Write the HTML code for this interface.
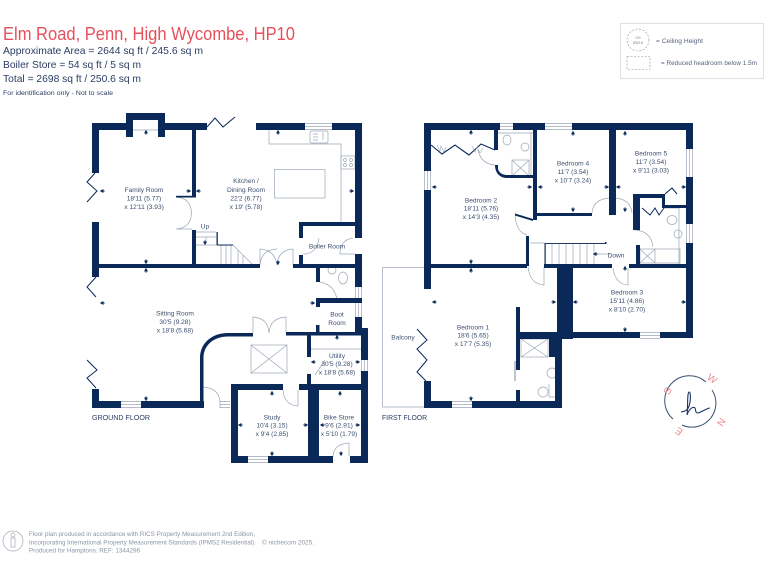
<!DOCTYPE html>
<html><head><meta charset="utf-8"><style>
html,body{margin:0;padding:0;background:#fff;width:768px;height:576px;overflow:hidden}
svg{display:block;filter:blur(.25px)}
text{font-family:"Liberation Sans",sans-serif}
.r text,.r{font-size:6.6px;fill:#3e4f70;text-anchor:middle}
</style></head><body>
<svg width="768" height="576" viewBox="0 0 768 576" xmlns="http://www.w3.org/2000/svg">
<rect width="768" height="576" fill="#fff"/>
<defs><path id="a" d="M0-2.2L2 1.4H.5V2.6H-.5V1.4H-2z" fill="#0a2858"/></defs>

<!-- header -->
<text x="3" y="40" font-size="18.500" fill="#e8505b" textLength="292" lengthAdjust="spacingAndGlyphs">Elm Road, Penn, High Wycombe, HP10</text>
<g fill="#2b3d63" font-size="10.5">
<text x="3" y="54" textLength="200" lengthAdjust="spacingAndGlyphs">Approximate Area = 2644 sq ft / 245.6 sq m</text>
<text x="3" y="68" textLength="138" lengthAdjust="spacingAndGlyphs">Boiler Store = 54 sq ft / 5 sq m</text>
<text x="3" y="82" textLength="138" lengthAdjust="spacingAndGlyphs">Total = 2698 sq ft / 250.6 sq m</text>
</g>
<text x="3" y="95" font-size="6.3" fill="#2b3d63" textLength="110" lengthAdjust="spacingAndGlyphs">For identification only - Not to scale</text>

<!-- legend -->
<rect x="620.5" y="23.5" width="143" height="55" fill="#fff" stroke="#d5d8dc" stroke-width=".8"/>
<circle cx="638" cy="40" r="11" fill="none" stroke="#8b93a0" stroke-width=".6" stroke-dasharray="2 1.5"/>
<text x="638" y="39" font-size="3.4" fill="#68738a" text-anchor="middle">CH</text>
<text x="638" y="44" font-size="3.4" fill="#68738a" text-anchor="middle">8'5/2.6</text>
<text x="656" y="43" font-size="6" fill="#57627c" textLength="47" lengthAdjust="spacingAndGlyphs">= Ceiling Height</text>
<rect x="627" y="56.5" width="23" height="13" fill="none" stroke="#8b93a0" stroke-width=".6" stroke-dasharray="2 1.5"/>
<text x="661" y="65" font-size="6" fill="#57627c" textLength="96" lengthAdjust="spacingAndGlyphs">= Reduced headroom below 1.5m</text>

<!-- thin lines -->
<g fill="none" stroke="#9ba6b6" stroke-width=".7">
<path d="M305 123.5H332M305 126.5H332M305 129.5H332"/>
<path d="M121 401.5H141M121 404.5H141M121 407.5H141"/>
<path d="M248 456.5H268M248 459.5H268M248 462.5H268"/>
<path d="M220 401.5H230M220 404.5H230M220 407.5H230M220 401V408"/>
<path d="M355.5 287V317M358.5 287V317M361.5 287V317"/>
<path d="M361.5 360V371M364.5 360V371M367.5 360V371"/>
<path d="M500 123.5H513M500 126.5H513M500 129.5H513"/>
<path d="M545 123.5H572M545 126.5H572M545 129.5H572"/>
<path d="M424.5 171V190M427.5 171V190M430.5 171V190"/>
<path d="M686.5 149V177M689.5 149V177M692.5 149V177"/>
<path d="M686.5 224V243M689.5 224V243M692.5 224V243"/>
<path d="M640 332.5H660M640 335.5H660M640 338.5H660"/>
<path d="M452 401.5H472M452 404.5H472M452 407.5H472"/>
<path d="M133 130H158"/>
<path d="M269 130V144H341V222"/>
<rect x="310" y="131" width="18" height="12" rx="1.5"/>
<path d="M313 134H318M313 137H318M313 140H318M323 132V140"/>
<rect x="341" y="156" width="14" height="13"/>
<circle cx="345" cy="160" r="1.5"/><circle cx="351" cy="160" r="1.5"/><circle cx="345" cy="165" r="1.5"/><circle cx="351" cy="165" r="1.5"/>
<rect x="274.5" y="169.5" width="50.5" height="28.5"/>
<path d="M176 197Q191 198 191.500 213Q191 228 176 229H192"/>
<path d="M196 232H216M196 237H216M196 245H217M233 245L253 265"/>
<path d="M206 237V243M221 245V265M226 245V265M231 245V265M238 250V265M243 255V265"/>
<path d="M260 249V265Q261 250 277 249M260 249Q275 250 277 265M293 249V265M293 249Q278 250 277 265"/>
<path d="M303 254H306Q317 252 319 238M353 238Q340 240 340 254H355"/>
<circle cx="332" cy="270" r="4"/><ellipse cx="343" cy="278" rx="4.500" ry="6"/>
<path d="M320 282Q335 285 337 300"/>
<path d="M253 333V317Q268 318 269 333M286 333V317Q270 318 269 333"/>
<rect x="251" y="345" width="36" height="28"/><path d="M251 345L287 373M287 345L251 373"/>
<path d="M311 349H361"/>
<path d="M325 360L315 375"/>
<path d="M203 387V402M203 387Q219 388 220 402"/>
<path d="M283 390Q284 405 298 406V390"/>
<path d="M333 457Q333 444 349 443V456"/>
<path d="M382.500 407V267.500H424M382.500 407H424"/>
<path d="M498 133H533M531 133V175"/>
<ellipse cx="507" cy="140" rx="4" ry="5"/><circle cx="525" cy="147" r="4"/>
<rect x="512" y="160" width="17" height="16"/><path d="M512 160L529 176M529 160L512 176"/>
<path d="M478 150Q481 164 495 165"/>
<path d="M515 215Q516 232 527 235"/>
<path d="M528 267Q530 284 544 285V267"/>
<path d="M530 243H545"/>
<path d="M552 243V265M559 243V265M566 243V265M573 243V265M580 243V265M587 243V265M594 243V265"/>
<path d="M592 213Q593 199 610 198M616 198Q631 200 632 213"/>
<path d="M640 230H635Q651 231 653 247"/>
<path d="M679 208V264M664 208H679"/>
<ellipse cx="672" cy="220" rx="5" ry="4.500"/><circle cx="678" cy="234" r="4"/>
<rect x="640" y="249" width="40" height="14" /><path d="M640 249L655 263M655 249L640 263M655 249V263"/>
<path d="M613 268Q615 284 628 285V268"/>
<rect x="521" y="339" width="27" height="18"/><path d="M521 339L548 357M548 339L521 357"/>
<circle cx="552" cy="373" r="5"/><ellipse cx="543" cy="392" rx="5" ry="5"/><path d="M549 384V397H555"/>
<path d="M515 361V381" stroke-width="1.300"/>
<path d="M595 254H610"/>
</g>

<!-- walls -->
<g fill="#0a2858">
<rect x="92" y="123" width="34" height="7"/>
<rect x="126" y="113" width="39" height="7"/>
<rect x="126" y="113" width="7" height="24"/>
<rect x="158" y="113" width="7" height="24"/>
<rect x="165" y="123" width="42" height="7"/>
<rect x="92" y="123" width="7" height="50"/>
<rect x="192" y="130" width="4" height="67"/>
<rect x="176" y="195.800" width="20" height="1.700"/>
<rect x="192" y="230" width="4" height="38"/>
<rect x="92" y="222" width="7" height="55"/>
<rect x="99" y="264" width="161" height="4"/>
<rect x="216.500" y="232" width="1.300" height="13"/>
<rect x="217" y="244.500" width="16" height="1"/>
<rect x="256" y="123" width="49" height="7"/>
<rect x="332" y="123" width="30" height="7"/>
<rect x="355" y="123" width="7" height="115"/>
<rect x="299" y="222" width="56" height="4"/>
<rect x="299" y="222" width="4" height="16"/>
<rect x="299" y="255" width="4" height="13"/>
<rect x="293" y="264" width="69" height="4"/>
<rect x="355" y="254" width="7" height="33"/>
<rect x="316" y="268" width="4" height="14"/>
<rect x="316" y="298" width="46" height="5"/>
<rect x="316" y="298" width="4" height="9"/>
<rect x="316" y="325" width="3.500" height="8"/>
<rect x="355" y="317" width="7" height="18"/>
<rect x="361" y="328" width="7" height="32"/>
<rect x="286" y="332" width="82" height="3.500"/>
<rect x="307" y="335" width="4" height="22"/>
<rect x="361" y="371" width="7" height="92"/>
<rect x="299" y="384" width="69" height="6"/>
<rect x="307" y="374" width="4" height="16"/>
<rect x="231" y="384" width="52" height="6"/>
<rect x="231" y="384" width="7" height="79"/>
<rect x="231" y="456" width="17" height="7"/>
<rect x="268" y="456" width="65" height="7"/>
<rect x="350" y="456" width="18" height="7"/>
<rect x="308" y="390" width="11" height="73"/>
<rect x="92" y="389" width="7" height="19"/>
<rect x="92" y="401" width="29" height="7"/>
<rect x="141" y="401" width="63" height="7"/>
<path d="M200 402V358C200 343 212 333 228 333H253V336.500H228C214 336.500 203.500 345 203.500 358V402z"/>
<rect x="424" y="123" width="76" height="7"/>
<rect x="513" y="123" width="32" height="7"/>
<rect x="572" y="123" width="121" height="7"/>
<rect x="424" y="123" width="7" height="48"/>
<rect x="424" y="190" width="7" height="99"/>
<rect x="431" y="264" width="96" height="4"/>
<rect x="424" y="381" width="7" height="27"/>
<rect x="424" y="401" width="28" height="7"/>
<rect x="472" y="401" width="90" height="7"/>
<rect x="494" y="130" width="4" height="20"/>
<path d="M495 165H498V168C498 172 502 175 507 175H533V178H507C500 178 495 173 495 165z"/>
<rect x="533" y="130" width="4" height="90"/>
<rect x="537" y="213" width="55" height="3"/>
<rect x="609" y="130" width="7" height="85"/>
<rect x="686" y="123" width="7" height="26"/>
<rect x="686" y="177" width="7" height="47"/>
<rect x="686" y="243" width="7" height="95"/>
<rect x="660" y="332" width="33" height="6"/>
<rect x="530" y="332" width="110" height="6"/>
<rect x="557" y="265" width="16" height="73"/>
<rect x="516" y="332" width="57" height="7"/>
<rect x="549" y="339" width="13" height="18"/>
<rect x="555" y="339" width="7" height="69"/>
<rect x="516" y="307" width="4" height="63"/>
<rect x="516" y="390" width="4" height="12"/>
<rect x="526" y="236" width="3" height="30"/>
<rect x="544" y="264" width="68" height="4"/>
<rect x="629" y="264" width="57" height="4"/>
<rect x="633" y="194" width="7" height="36"/>
<rect x="633" y="194" width="31" height="4"/>
<rect x="662" y="194" width="3" height="14"/>
<rect x="662" y="205" width="24" height="3"/>
<rect x="636" y="245" width="4" height="19"/>
<rect x="545" y="243" width="61" height=".9"/>
<rect x="544.500" y="243" width="1.200" height="21"/>
<rect x="605" y="242" width="1.500" height="2"/>
<path d="M515 213.500L533 219L533 221L515 215.500z"/>
</g>

<!-- zigzags -->
<g fill="none" stroke="#0a2858" stroke-width="1">
<path d="M95 173L87 182L97 191L87 202"/>
<path d="M207 127L215 118L223 127L235 117"/>
<path d="M96 277L87 287L96 297"/>
<path d="M96 388L87 378L97 370L87 360"/>
<path d="M431 145L442 154L455 145L469 155L481 144L495 150" stroke-width="1.100"/>
<path d="M642 208L650 215L655 208L659 215L664 208"/>
<path d="M665 194L672 188L677 194"/>
<path d="M426 381L417 372L427 360L417 349L427 340L417 329"/>
</g>
<path d="M437 145l3 6 1-5 3 6 2-5M472 146l3 6 2-5 3 6 3-5" fill="none" stroke="#9ba6b6" stroke-width=".6"/>

<!-- dimension arrows -->
<use href="#a" transform="translate(146 132)"/>
<use href="#a" transform="translate(102 191) rotate(-90)"/>
<use href="#a" transform="translate(189 191) rotate(90)"/>
<use href="#a" transform="translate(198 191) rotate(-90)"/>
<use href="#a" transform="translate(146 262) rotate(180)"/>
<use href="#a" transform="translate(146 270)"/>
<use href="#a" transform="translate(278 132)"/>
<use href="#a" transform="translate(352 191) rotate(90)"/>
<use href="#a" transform="translate(205 243) rotate(180)"/>
<use href="#a" transform="translate(278 263) rotate(180)"/>
<use href="#a" transform="translate(102 303) rotate(-90)"/>
<use href="#a" transform="translate(146 399) rotate(180)"/>
<use href="#a" transform="translate(313 303) rotate(90)"/>
<use href="#a" transform="translate(337 337)"/>
<use href="#a" transform="translate(313 362) rotate(-90)"/>
<use href="#a" transform="translate(358 362) rotate(90)"/>
<use href="#a" transform="translate(272 393)"/>
<use href="#a" transform="translate(240 425) rotate(-90)"/>
<use href="#a" transform="translate(306 425) rotate(90)"/>
<use href="#a" transform="translate(272 454) rotate(180)"/>
<use href="#a" transform="translate(340 393)"/>
<use href="#a" transform="translate(322 425) rotate(-90)"/>
<use href="#a" transform="translate(358 425) rotate(90)"/>
<use href="#a" transform="translate(341 454) rotate(180)"/>
<use href="#a" transform="translate(471 132)"/>
<use href="#a" transform="translate(434 187) rotate(-90)"/>
<use href="#a" transform="translate(530 187) rotate(90)"/>
<use href="#a" transform="translate(540 187) rotate(-90)"/>
<use href="#a" transform="translate(471 262) rotate(180)"/>
<use href="#a" transform="translate(471 270)"/>
<use href="#a" transform="translate(573 133)"/>
<use href="#a" transform="translate(573 210) rotate(180)"/>
<use href="#a" transform="translate(607 187) rotate(90)"/>
<use href="#a" transform="translate(618 187) rotate(-90)"/>
<use href="#a" transform="translate(625 133)"/>
<use href="#a" transform="translate(684 187) rotate(90)"/>
<use href="#a" transform="translate(625 210) rotate(180)"/>
<use href="#a" transform="translate(595 254) rotate(-90)"/>
<use href="#a" transform="translate(625 268)"/>
<use href="#a" transform="translate(554 302) rotate(90)"/>
<use href="#a" transform="translate(575 302) rotate(-90)"/>
<use href="#a" transform="translate(684 302) rotate(90)"/>
<use href="#a" transform="translate(625 330) rotate(180)"/>
<use href="#a" transform="translate(434 302) rotate(-90)"/>
<use href="#a" transform="translate(471 399) rotate(180)"/>

<!-- labels -->
<g class="r">
<text x="144" y="192">Family Room</text><text x="144" y="200.500">18'11 (5.77)</text><text x="144" y="209">x 12'11 (3.93)</text>
<text x="246" y="183">Kitchen /</text><text x="246" y="192">Dining Room</text><text x="246" y="200.500">22'2 (6.77)</text><text x="246" y="209">x 19' (5.78)</text>
<text x="205" y="228.500">Up</text>
<text x="327" y="248.500">Boiler Room</text>
<text x="175" y="315.500">Sitting Room</text><text x="175" y="324">30'5 (9.28)</text><text x="175" y="332.500">x 18'8 (5.68)</text>
<text x="337" y="316.500">Boot</text><text x="337" y="325">Room</text>
<text x="337" y="358">Utility</text><text x="337" y="366">30'5 (9.28)</text><text x="337" y="374.500">x 18'8 (5.68)</text>
<text x="272" y="419.500">Study</text><text x="272" y="427.500">10'4 (3.15)</text><text x="272" y="436">x 9'4 (2.85)</text>
<text x="339" y="419.500">Bike Store</text><text x="339" y="427.500">9'6 (2.91)</text><text x="339" y="436">x 5'10 (1.79)</text>
<text x="481" y="202.500">Bedroom 2</text><text x="481" y="210.500">18'11 (5.76)</text><text x="481" y="219">x 14'3 (4.35)</text>
<text x="573" y="165.500">Bedroom 4</text><text x="573" y="174">11'7 (3.54)</text><text x="573" y="182.500">x 10'7 (3.24)</text>
<text x="651" y="155.500">Bedroom 5</text><text x="651" y="164">11'7 (3.54)</text><text x="651" y="172.500">x 9'11 (3.03)</text>
<text x="616" y="257.500">Down</text>
<text x="627" y="294.500">Bedroom 3</text><text x="627" y="303">15'11 (4.86)</text><text x="627" y="311.500">x 8'10 (2.70)</text>
<text x="473" y="329.500">Bedroom 1</text><text x="473" y="337.500">18'6 (5.65)</text><text x="473" y="346">x 17'7 (5.35)</text>
<text x="403" y="339.500">Balcony</text>
</g>
<text x="92" y="420" font-size="7.500" fill="#2b3d63" textLength="58" lengthAdjust="spacingAndGlyphs">GROUND FLOOR</text>
<text x="382" y="420" font-size="7.500" fill="#2b3d63" textLength="45" lengthAdjust="spacingAndGlyphs">FIRST FLOOR</text>

<!-- compass -->
<path d="M673 419A24 24 0 0 1 706 382M712 390A24 24 0 0 1 682 425" fill="none" stroke="#3b5273" stroke-width="1"/>
<path d="M681 412C687 411 689 409 690 402C691 395 690 392 689 392C687 393 688 408 687 415C689 409 693 406 695 408C696 410 695 413 698 413C702 412 707 408 710 408" fill="none" stroke="#1b3560" stroke-width="1.100"/>
<g fill="#ee8a8a" font-size="10" text-anchor="middle">
<text x="668" y="394" transform="rotate(-60 668 391)">S</text>
<text x="712" y="382" transform="rotate(35 712 379)">W</text>
<text x="721" y="425" transform="rotate(125 721 422)">N</text>
<text x="679" y="434" transform="rotate(215 679 431)">E</text>
</g>

<!-- footer -->
<circle cx="13" cy="541" r="10" fill="none" stroke="#a5acb6" stroke-width=".7"/>
<circle cx="13" cy="535" r="2" fill="none" stroke="#a5acb6" stroke-width=".7"/>
<path d="M11 538H15V547H11z" fill="none" stroke="#a5acb6" stroke-width=".7"/>
<g font-size="6.300" fill="#8b96a8">
<text x="29" y="536" textLength="226" lengthAdjust="spacingAndGlyphs">Floor plan produced in accordance with RICS Property Measurement 2nd Edition,</text>
<text x="29" y="544.500" textLength="227" lengthAdjust="spacingAndGlyphs">Incorporating International Property Measurement Standards (IPMS2 Residential).</text>
<text x="29" y="552.500" textLength="111" lengthAdjust="spacingAndGlyphs">Produced for Hamptons.  REF: 1344296</text>
<text x="262" y="544.500" textLength="52" lengthAdjust="spacingAndGlyphs">© nichecom 2025.</text>
</g>
</svg>
</body></html>
